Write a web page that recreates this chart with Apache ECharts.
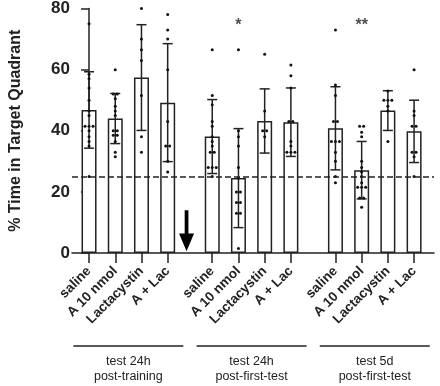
<!DOCTYPE html>
<html>
<head>
<meta charset="utf-8">
<script src="https://cdn.jsdelivr.net/npm/echarts@6/dist/echarts.min.js"></script>
<style>
  html, body { margin: 0; padding: 0; background: #fff; }
  #chart { width: 440px; height: 386px; }
</style>
</head>
<body>
<div id="chart"></div>
<script>
// data
const groups = ['test 24h\npost-training', 'test 24h\npost-first-test', 'test 5d\npost-first-test'];
const treatments = ['saline', 'A 10 nmol', 'Lactacystin', 'A + Lac'];
const means = [46.8, 44.0, 57.4, 49.2, 38.1, 24.5, 43.2, 42.8, 40.8, 27.1, 46.6, 39.8];
const sds = [12.5, 8.2, 17.3, 19.3, 12.1, 16.2, 10.5, 11.2, 13.6, 9.4, 6.5, 10.2];
const points = [
    [75, 58.5, 57, 54, 50, 46.5, 45, 41.5, 41.5, 41.5, 40, 38, 36.5, 35, 25],
    [60, 52, 52, 50.5, 48, 46.5, 45, 40, 40, 38.5, 38.5, 36.5, 33, 31.5],
    [80, 70, 66.5, 63, 51.5, 38, 33],
    [78, 73, 70, 60, 43, 35, 35, 30, 26.5],
    [66.5, 51.5, 48.5, 43, 41.5, 38, 36.5, 35, 33, 33, 28, 28, 28, 25],
    [66.5, 40, 38, 35, 28, 24.5, 20, 20, 16.5, 16.5, 13, 13, 1.5],
    [65, 46.5, 40, 40, 38],
    [61.5, 58, 54, 43, 43, 36.5, 35, 33, 33, 33],
    [73, 55, 51.5, 43, 43, 36.5, 36.5, 36.5, 33, 30, 25, 23],
    [41.5, 41.5, 39.5, 38, 30, 28, 26.5, 25, 23, 21.5, 21.5, 21.5, 18, 18, 15],
    [53, 50, 50, 50, 48, 46.5, 36.5],
    [60, 46.5, 45, 41.5, 41.5, 33, 33, 31.5, 25]
];
const signif = ['', '', '', '', '', '*', '', '', '', '**', '', ''];
const chance = 25;

// layout of bars on the x value axis
const groupStep = 4.7;
const xPos = means.map((m, i) => Math.floor(i / 4) * groupStep + (i % 4));
const nameAt = v => {
    const i = xPos.findIndex(p => Math.abs(p - v) < 0.01);
    return i < 0 ? '' : treatments[i % 4];
};

const dotData = [];
points.forEach((arr, i) => {
    const counts = {};
    arr.forEach(v => { counts[v] = (counts[v] || 0) + 1; });
    const seen = {};
    arr.forEach(v => {
        const k = counts[v];
        const j = seen[v] || 0;
        seen[v] = j + 1;
        dotData.push({ value: [xPos[i], v], symbolOffset: [(j - (k - 1) / 2) * 4, 0] });
    });
});

const errData = means.map((m, i) => [xPos[i], m - sds[i], m + sds[i]]);
const starData = [];
signif.forEach((s, i) => { if (s) starData.push({ value: [xPos[i], 74.5], label: { formatter: s } }); });

const font = "'Liberation Sans', Arial, sans-serif";
const ink = '#222';

const chart = echarts.init(document.getElementById('chart'));

const option = {
    animation: false,
    grid: { left: 66, right: 6, top: 8, bottom: 133 },
    xAxis: {
        type: 'value',
        min: -0.65,
        max: 13.16,
        splitLine: { show: false },
        axisLine: { show: true, lineStyle: { color: ink, width: 1.5 } },
        axisTick: { show: true, customValues: xPos, length: 10, lineStyle: { color: ink, width: 1.5 } },
        axisLabel: {
            customValues: xPos,
            formatter: nameAt,
            rotate: 45,
            margin: 16,
            fontFamily: font,
            fontWeight: 'bold',
            fontSize: 13.5,
            color: ink
        }
    },
    yAxis: {
        type: 'value',
        min: 0,
        max: 80,
        interval: 20,
        name: '% Time in Target Quadrant',
        nameLocation: 'middle',
        nameGap: 48,
        nameTextStyle: { fontFamily: font, fontWeight: 'bold', fontSize: 16, color: ink },
        splitLine: { show: false },
        axisLine: { show: true, lineStyle: { color: ink, width: 1.5 } },
        axisTick: { show: true, length: 8, lineStyle: { color: ink, width: 1.5 } },
        axisLabel: { fontFamily: font, fontWeight: 'bold', fontSize: 17, color: ink, margin: 2 }
    },
    series: [
        {
            type: 'bar',
            barWidth: 15,
            data: means.map((m, i) => [xPos[i], m]),
            itemStyle: { color: '#fff', borderColor: ink, borderWidth: 1.5 },
            markLine: {
                symbol: 'none',
                silent: true,
                label: { show: false },
                lineStyle: { color: ink, type: [6, 3], width: 1.5 },
                data: [{ yAxis: chance }]
            },
            z: 1
        },
        {
            type: 'custom',
            data: errData,
            z: 3,
            renderItem: (params, api) => {
                const x = api.value(0);
                const lo = api.coord([x, api.value(1)]);
                const hi = api.coord([x, api.value(2)]);
                const cap = 5;
                const style = { stroke: ink, lineWidth: 1.5 };
                return {
                    type: 'group',
                    children: [
                        { type: 'line', shape: { x1: lo[0], y1: lo[1], x2: hi[0], y2: hi[1] }, style },
                        { type: 'line', shape: { x1: hi[0] - cap, y1: hi[1], x2: hi[0] + cap, y2: hi[1] }, style },
                        { type: 'line', shape: { x1: lo[0] - cap, y1: lo[1], x2: lo[0] + cap, y2: lo[1] }, style }
                    ]
                };
            }
        },
        {
            type: 'scatter',
            data: dotData,
            symbolSize: 3,
            itemStyle: { color: '#111', opacity: 1 },
            z: 4
        },
        {
            type: 'scatter',
            data: starData,
            symbolSize: 0,
            label: { show: true, position: 'inside', fontFamily: font, fontWeight: 'bold', fontSize: 16, color: ink },
            z: 4
        },
        {
            // treatment arrow between first and second test
            type: 'scatter',
            data: [[3.72, 7.3]],
            symbol: 'path://M6,0 L10,0 L10,24 L16,24 L8,42 L0,24 L6,24 Z',
            symbolSize: [15, 41],
            itemStyle: { color: '#000', opacity: 1 },
            z: 4
        }
    ]
};

chart.setOption(option);

// group captions under the axis labels
const graphic = [];
groups.forEach((g, k) => {
    const c = (xPos[k * 4] + xPos[k * 4 + 3]) / 2;
    const cx = chart.convertToPixel({ xAxisIndex: 0 }, c);
    graphic.push({
        type: 'line',
        shape: { x1: cx - 55, y1: 346, x2: cx + 55, y2: 346 },
        style: { stroke: ink, lineWidth: 1.5 }
    });
    graphic.push({
        type: 'text',
        x: cx,
        y: 354,
        style: {
            text: g,
            align: 'center',
            verticalAlign: 'top',
            font: '12.5px ' + font,
            lineHeight: 15,
            fill: ink
        }
    });
});
chart.setOption({ graphic });
</script>
</body>
</html>
